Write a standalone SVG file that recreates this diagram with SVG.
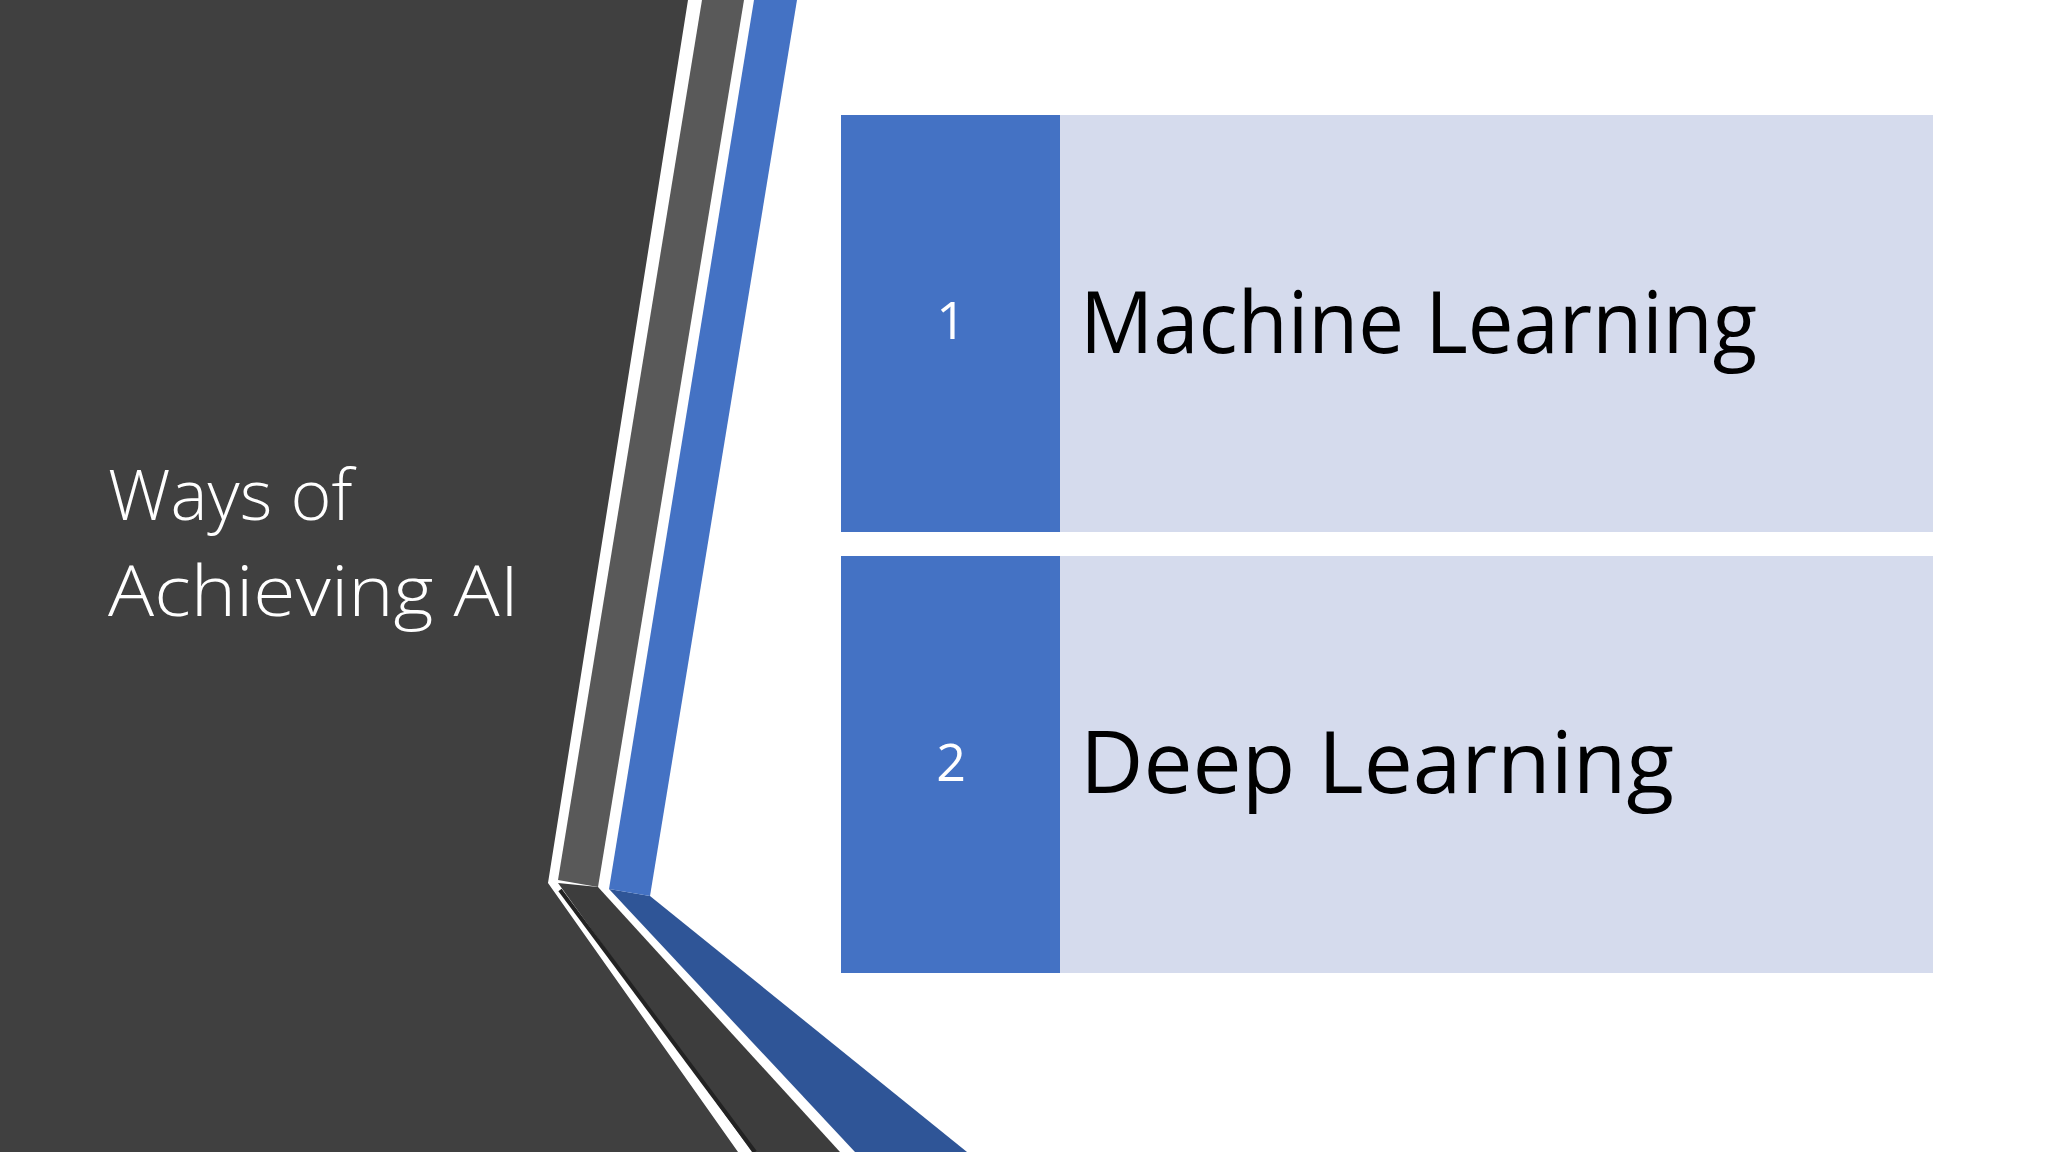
<svg xmlns="http://www.w3.org/2000/svg" width="2048" height="1152" viewBox="0 0 2048 1152">
<style>
.num{font-family:"Open Sans","Liberation Sans",sans-serif;font-size:52px;fill:#fff;text-anchor:middle}
.lbl{font-family:"Open Sans","Liberation Sans",sans-serif;font-size:86px;fill:#000}
.ttl{font-family:"Open Sans","Liberation Sans",sans-serif;font-weight:300;font-size:70px;fill:#fff}
.side{fill:#4472c4}.main{fill:#d5dbed}
</style>
<rect width="2048" height="1152" fill="#fff"/>
<g id="decor">
<polygon points="0,0 688,0 548,883 738,1152 0,1152" fill="#404040"/>
<polygon points="558,883 598,887 840,1152 752,1152" fill="#3d3d3d"/>
<polyline points="560,890 755,1152" stroke="#222" stroke-width="4" fill="none"/>
<polygon points="702,0 744,0 598,887 558,880" fill="#595959"/>
<polygon points="609,889 650,896 967,1152 855,1152" fill="#2f5597"/>
<polygon points="754,0 797,0 650,896 609,889" fill="#4472c4"/>
</g>
<g id="title">
<text class="ttl" x="108" y="520">Ways of</text>
<text class="ttl" x="108" y="616" textLength="411" lengthAdjust="spacingAndGlyphs">Achieving AI</text>
</g>
<g id="item1">
<rect class="main" x="1060" y="115" width="873" height="417"/>
<rect class="side" x="841" y="115" width="219" height="417"/>
<text class="num" x="951" y="339">1</text>
<text class="lbl" x="1080" y="353" textLength="677" lengthAdjust="spacingAndGlyphs">Machine Learning</text>
</g>
<g id="item2">
<rect class="main" x="1060" y="556" width="873" height="417"/>
<rect class="side" x="841" y="556" width="219" height="417"/>
<text class="num" x="951" y="781">2</text>
<text class="lbl" x="1080" y="793" textLength="594" lengthAdjust="spacingAndGlyphs">Deep Learning</text>
</g>
<g id="connectors"/>
</svg>
